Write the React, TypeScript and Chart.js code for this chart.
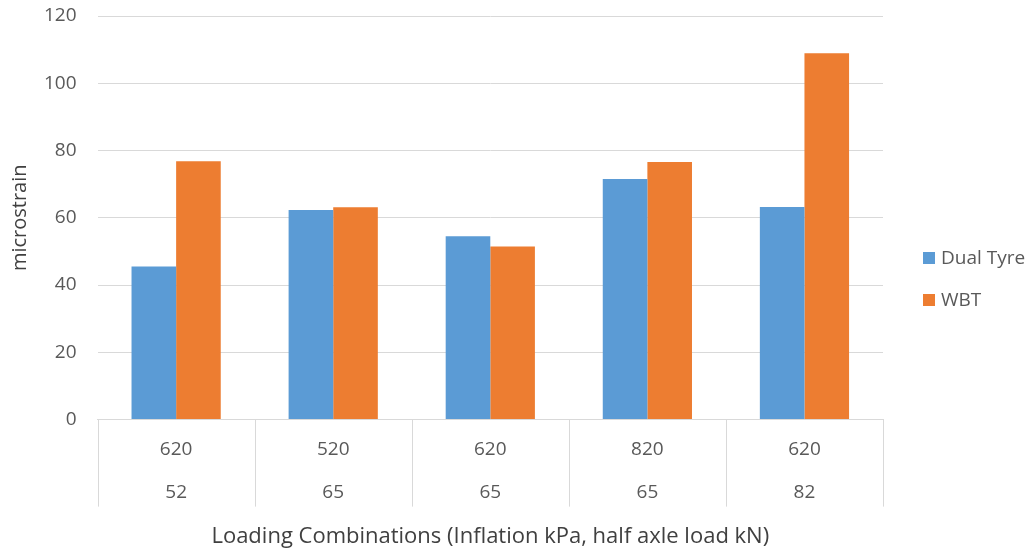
import React, { useEffect, useRef } from 'react';
import { Chart, registerables } from 'chart.js';

Chart.register(...registerables);

const FONT = "'Open Sans', sans-serif";
const TEXT = '#595959';
const TITLE = '#404040';
const GRID = '#d9d9d9';

const inflation = ['620', '520', '620', '820', '620'];
const halfAxleLoad = ['52', '65', '65', '65', '82'];
const seriesNames = ['Dual Tyre', 'WBT'];
const seriesColors = ['#5B9BD5', '#ED7D31'];
const dualTyre = [45.5, 62.3, 54.5, 71.5, 63.2];
const wbt = [76.8, 63.1, 51.5, 76.6, 108.9];
const yTicks = { min: 0, max: 120, step: 20 };

const TABLE_DEPTH = 87;

const categoryTable = {
  id: 'categoryTable',
  afterDraw(chart: any) {
    const { ctx, chartArea, scales } = chart;
    const xs = scales.x;
    const n = xs.ticks.length;
    const step = (chartArea.right - chartArea.left) / n;
    ctx.save();
    ctx.strokeStyle = GRID;
    ctx.lineWidth = 1;
    ctx.beginPath();
    for (let i = 0; i <= n; i++) {
      const px = Math.round(chartArea.left + i * step) + 0.5;
      ctx.moveTo(px, chartArea.bottom);
      ctx.lineTo(px, chartArea.bottom + TABLE_DEPTH);
    }
    ctx.stroke();
    ctx.restore();
  },
};

const sideLegend = {
  id: 'sideLegend',
  afterDraw(chart: any) {
    const { ctx, chartArea } = chart;
    const datasets = chart.data.datasets;
    const gap = 42;
    const x = chartArea.right + 40;
    const y0 = chart.height / 2 + 2 - ((datasets.length - 1) * gap) / 2;
    ctx.save();
    ctx.font = `19px ${FONT}`;
    ctx.textBaseline = 'middle';
    ctx.textAlign = 'left';
    datasets.forEach((ds: any, i: number) => {
      const yc = y0 + i * gap;
      ctx.fillStyle = ds.backgroundColor;
      ctx.fillRect(x, yc - 6, 12, 12);
      ctx.fillStyle = TEXT;
      ctx.fillText(ds.label, x + 18, yc + 1);
    });
    ctx.restore();
  },
};

export default function App() {
  const ref = useRef<HTMLCanvasElement>(null);
  useEffect(() => {
    const labels = inflation.map((v, i) => [v, halfAxleLoad[i]]);
    const chart = new Chart(ref.current!, {
      type: 'bar',
      data: {
        labels,
        datasets: [
          { label: seriesNames[0], data: dualTyre, backgroundColor: seriesColors[0], borderWidth: 0 },
          { label: seriesNames[1], data: wbt, backgroundColor: seriesColors[1], borderWidth: 0 },
        ],
      },
      plugins: [categoryTable, sideLegend],
      options: {
        animation: false,
        responsive: false,
        maintainAspectRatio: false,
        datasets: { bar: { categoryPercentage: 0.568, barPercentage: 1 } },
        layout: { padding: { left: 0, top: 0, right: 149, bottom: 0 } },
        plugins: {
          tooltip: { enabled: false },
          legend: { display: false },
        },
        scales: {
          x: {
            grid: { display: false },
            border: { color: GRID },
            ticks: {
              color: TEXT,
              font: { family: FONT, size: 19, lineHeight: 43 / 19 },
              padding: 0.5,
              maxRotation: 0,
              autoSkip: false,
            },
            title: {
              display: true,
              text: 'Loading Combinations (Inflation kPa, half axle load kN)',
              color: TITLE,
              font: { family: FONT, size: 22 },
              padding: { top: 9, bottom: 4 },
            },
          },
          y: {
            min: yTicks.min,
            max: yTicks.max,
            grid: { color: GRID, drawTicks: false },
            border: { display: false },
            afterFit: (scale: any) => {
              scale.paddingTop = 16;
            },
            ticks: {
              stepSize: yTicks.step,
              padding: 21,
              color: TEXT,
              font: { family: FONT, size: 19 },
            },
            title: {
              display: true,
              text: 'microstrain',
              color: TITLE,
              font: { family: FONT, size: 20 },
              padding: { top: 8, bottom: -9 },
            },
          },
        },
      },
    });
    return () => chart.destroy();
  }, []);
  return (
    <div style={{ position: 'fixed', left: 0, top: 0, width: 1032, height: 554, background: '#fff' }}>
      <canvas ref={ref} width={1032} height={554} />
    </div>
  );
}
